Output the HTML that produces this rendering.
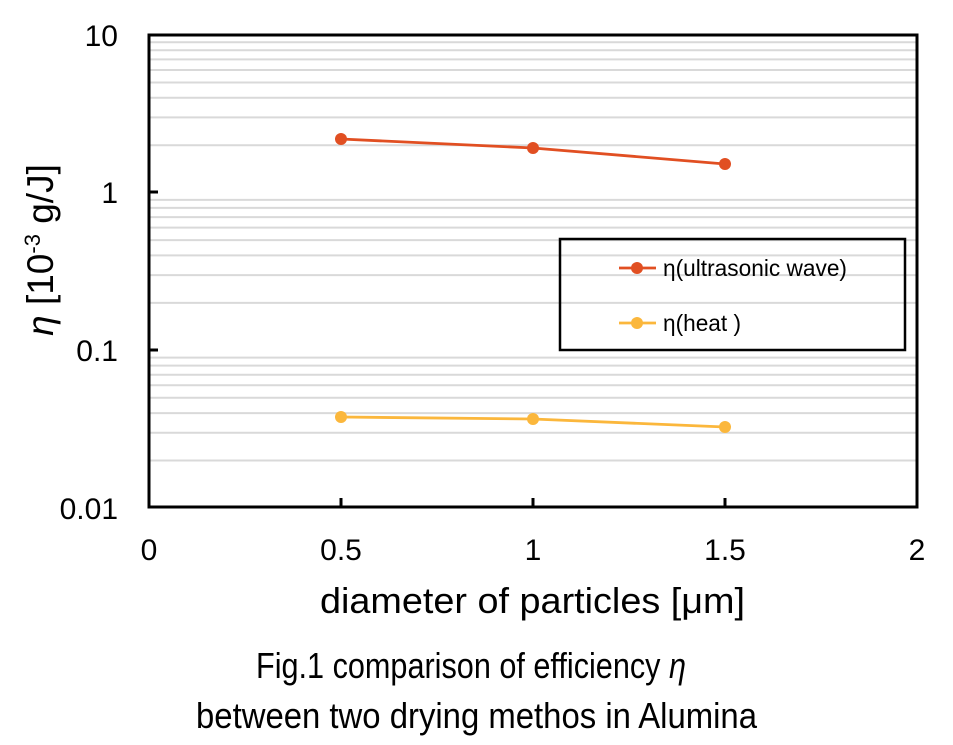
<!DOCTYPE html>
<html><head><meta charset="utf-8"><style>
html,body{margin:0;padding:0;background:#fff;width:953px;height:745px;overflow:hidden}
svg{display:block;font-family:"Liberation Sans","DejaVu Sans",sans-serif}
</style></head><body>
<svg id="s" width="953" height="745" xmlns="http://www.w3.org/2000/svg">
<g id="grid" stroke="#d9d9d9" stroke-width="2"></g>
<g stroke="#000" stroke-width="3" fill="none">
<rect x="149" y="35" width="768" height="472"/>
<line x1="149" y1="192" x2="158" y2="192"/>
<line x1="149" y1="350" x2="158" y2="350"/>
<line x1="341" y1="507" x2="341" y2="498"/>
<line x1="533" y1="507" x2="533" y2="498"/>
<line x1="725" y1="507" x2="725" y2="498"/>
<rect x="560" y="239" width="345" height="111" stroke-width="2.5"/>
</g>
<g style="font-size:30px" fill="#000" text-anchor="end">
<text x="118" y="46">10</text>
<text x="118" y="203">1</text>
<text x="118" y="361">0.1</text>
<text x="118" y="519">0.01</text>
</g>
<g style="font-size:30px" fill="#000" text-anchor="middle">
<text x="149" y="560">0</text>
<text x="341" y="560">0.5</text>
<text x="533" y="560">1</text>
<text x="725" y="560">1.5</text>
<text x="917" y="560">2</text>
</g>
<text x="320" y="613" style="font-size:36px" textLength="425" lengthAdjust="spacingAndGlyphs">diameter of particles [μm]</text>
<text x="256" y="678" style="font-size:36px" textLength="430" lengthAdjust="spacingAndGlyphs">Fig.1 comparison of efficiency <tspan font-style="italic">η</tspan></text>
<text x="196" y="728" style="font-size:36px" textLength="561" lengthAdjust="spacingAndGlyphs">between two drying methos in Alumina</text>
<text transform="translate(53,250) rotate(-90)" style="font-size:37px" text-anchor="middle"><tspan font-style="italic">η</tspan> [10<tspan style="font-size:22px" dy="-13">-3</tspan><tspan dy="13"> g/J]</tspan></text>
<g stroke-width="2.8" fill="none">
<polyline stroke="#e14f22" points="341,139 533,148 725,164"/>
<polyline stroke="#fbb73c" points="341,417 533,419 725,427"/>
<line stroke="#e14f22" x1="619" y1="268" x2="656" y2="268"/>
<line stroke="#fbb73c" x1="619" y1="323" x2="656" y2="323"/>
</g>
<g fill="#e14f22"><circle cx="341" cy="139" r="6"/><circle cx="533" cy="148" r="6"/><circle cx="725" cy="164" r="6"/><circle cx="637" cy="268" r="6"/></g>
<g fill="#fbb73c"><circle cx="341" cy="417" r="6"/><circle cx="533" cy="419" r="6"/><circle cx="725" cy="427" r="6"/><circle cx="637" cy="323" r="6"/></g>
<g style="font-size:23px" fill="#000"><text x="663" y="276" textLength="184" lengthAdjust="spacingAndGlyphs">η(ultrasonic wave)</text><text x="663" y="331" textLength="78" lengthAdjust="spacingAndGlyphs">η(heat )</text></g>
</svg>
<script>
var g=document.getElementById('grid'),h='';
for(var d=-2;d<1;d++){for(var k=2;k<=9;k++){var v=k*Math.pow(10,d);var y=(35+157.67*(1-Math.log10(v))).toFixed(1);h+='<line x1="150" x2="916" y1="'+y+'" y2="'+y+'"/>';}}
g.innerHTML=h;
</script>
</body></html>
